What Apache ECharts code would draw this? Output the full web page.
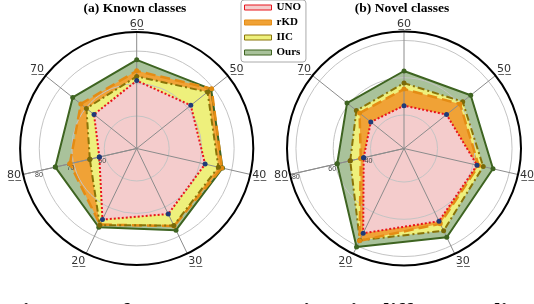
<!DOCTYPE html>
<html><head><meta charset="utf-8">
<script src="https://cdn.jsdelivr.net/npm/echarts@6/dist/echarts.min.js"></script>
<style>html,body{margin:0;padding:0;background:#fff}#c{width:534px;height:304px}</style>
</head><body><div id="c"></div>
<script>
// Axis names, clockwise starting from the left axis
const axisNames = ['80', '70', '60', '50', '40', '30', '20'];
const methods = ['UNO', 'rKD', 'IIC', 'Ours'];
const knownTicks = [60, 70, 80];
const novelTicks = [40, 60, 80];
// (a) Known classes
const knownUNO  = [61.8, 66.8, 70.9, 71.3, 71.6, 72.4, 74.3];
const knownRKD  = [71.1, 72.0, 73.9, 79.5, 76.9, 76.5, 76.0];
const knownIIC  = [64.8, 69.8, 72.2, 77.9, 75.8, 76.3, 76.2];
const knownOurs = [75.7, 75.2, 77.3, 79.3, 77.1, 77.9, 76.9];
// (b) Novel classes
const novelUNO  = [44.2, 44.8, 45.0, 51.2, 62.2, 65.3, 72.5];
const novelRKD  = [45.8, 52.5, 53.9, 60.4, 63.1, 66.8, 77.0];
const novelIIC  = [51.6, 54.7, 57.1, 62.3, 65.6, 71.0, 76.7];
const novelOurs = [58.8, 61.1, 63.6, 67.8, 71.0, 74.9, 80.7];

const styles = {
  UNO:  {fill: '#f4cccc', line: '#e8141c', type: 'dotted', width: 2,   marker: '#1f3a78'},
  rKD:  {fill: '#f0a236', line: '#e48c14', type: 'dashed', width: 2.5, marker: '#e08a10'},
  IIC:  {fill: '#eef07c', line: '#8a7408', type: [7, 3, 2, 3], width: 2, marker: '#7a6a08'},
  Ours: {fill: '#a9c29b', line: '#3e6421', type: 'solid',  width: 2,   marker: '#3e6421'}
};

function closed(vals) {
  const d = vals.map((v, i) => [v, i]);
  d.push([vals[0], vals.length]);
  return d;
}
function fillSeries(name, vals, pi) {
  return {type: 'line', name, coordinateSystem: 'polar', polarIndex: pi, data: closed(vals),
    symbol: 'none', showSymbol: false, lineStyle: {opacity: 0},
    areaStyle: {color: styles[name].fill, opacity: 1}, z: 1, silent: true, animation: false};
}
function lineSeries(name, vals, pi) {
  const s = styles[name];
  return {type: 'line', name, coordinateSystem: 'polar', polarIndex: pi, data: closed(vals),
    symbol: 'circle', symbolSize: 5, showSymbol: true,
    lineStyle: {color: s.line, type: s.type, width: s.width},
    itemStyle: {color: s.marker}, z: 3, silent: true, animation: false};
}

const knownSets = {UNO: knownUNO, rKD: knownRKD, IIC: knownIIC, Ours: knownOurs};
const novelSets = {UNO: novelUNO, rKD: novelRKD, IIC: novelIIC, Ours: novelOurs};
const knownOrder = ['Ours', 'rKD', 'IIC', 'UNO'];
const novelOrder = ['Ours', 'IIC', 'rKD', 'UNO'];

const series = [];
knownOrder.forEach(m => series.push(fillSeries(m, knownSets[m], 0)));
novelOrder.forEach(m => series.push(fillSeries(m, novelSets[m], 1)));
knownOrder.forEach(m => series.push(lineSeries(m, knownSets[m], 0)));
novelOrder.forEach(m => series.push(lineSeries(m, novelSets[m], 1)));

const underline = s => s.split('').map(ch => ch + '\u0332').join('');

function angleAxis(pi) {
  return {polarIndex: pi, type: 'value', min: 0, max: 7, interval: 1, startAngle: 192.857, clockwise: true, z: 2,
    axisLine: {show: true, lineStyle: {color: '#000', width: 2}},
    axisTick: {show: false},
    splitLine: {show: true, lineStyle: {color: '#8c8c8c', width: 1}},
    axisLabel: {margin: 2, fontSize: 11, fontFamily: 'DejaVu Sans', color: '#333',
      formatter: v => (v < 7 ? underline(axisNames[v]) : '')}};
}
function radiusAxis(pi, min, max, ticks) {
  return {polarIndex: pi, type: 'value', min, max, splitNumber: 3, z: 2,
    axisLine: {show: true, lineStyle: {color: '#8c8c8c', width: 1}},
    axisTick: {show: false},
    splitLine: {show: true, lineStyle: {color: '#c4c4c4', width: 1}},
    axisLabel: {fontSize: 7, fontFamily: 'Liberation Sans', color: '#444', margin: 5, align: 'right',
      formatter: v => (ticks.includes(v) ? String(v) : '')}};
}

const titleFont = {fontFamily: 'Liberation Serif', fontWeight: 'bold', fontSize: 13.5, color: '#000'};
const option = {
  backgroundColor: '#fff',
  animation: false,
  title: [
    {text: '(a) Known classes', left: 135, top: 2, padding: 0, textAlign: 'center', textStyle: titleFont},
    {text: '(b) Novel classes', left: 402, top: 2, padding: 0, textAlign: 'center', textStyle: titleFont},
    {text: '{b|Fig. 2:}  Performance comparison in different splits of known and novel classes',
      left: 3, top: 296,
      textStyle: {fontFamily: 'Liberation Serif', fontSize: 24, color: '#000',
        rich: {b: {fontFamily: 'Liberation Serif', fontSize: 24, fontWeight: 'bold', color: '#000'}}}}
  ],
  legend: {orient: 'vertical', left: 241, top: 0, icon: 'rect', itemWidth: 27, itemHeight: 5, itemGap: 4,
    padding: [2, 5, 4, 3], backgroundColor: '#fff', borderColor: '#aaa', borderWidth: 1, borderRadius: 3,
    textStyle: {fontFamily: 'Liberation Serif', fontWeight: 'bold', fontSize: 11, color: '#000'},
    data: methods.map(m => ({name: m, itemStyle: {color: styles[m].fill, borderColor: styles[m].line, borderWidth: 1}}))},
  polar: [{center: [136.7, 148.5], radius: 116.6}, {center: [404, 148.5], radius: 117}],
  angleAxis: [angleAxis(0), angleAxis(1)],
  radiusAxis: [radiusAxis(0, 50, 85.9, knownTicks), radiusAxis(1, 22, 84.8, novelTicks)],
  series
};
const chart = echarts.init(document.getElementById('c'), null, {renderer: 'canvas'});
chart.setOption(option);
</script>
</body></html>
